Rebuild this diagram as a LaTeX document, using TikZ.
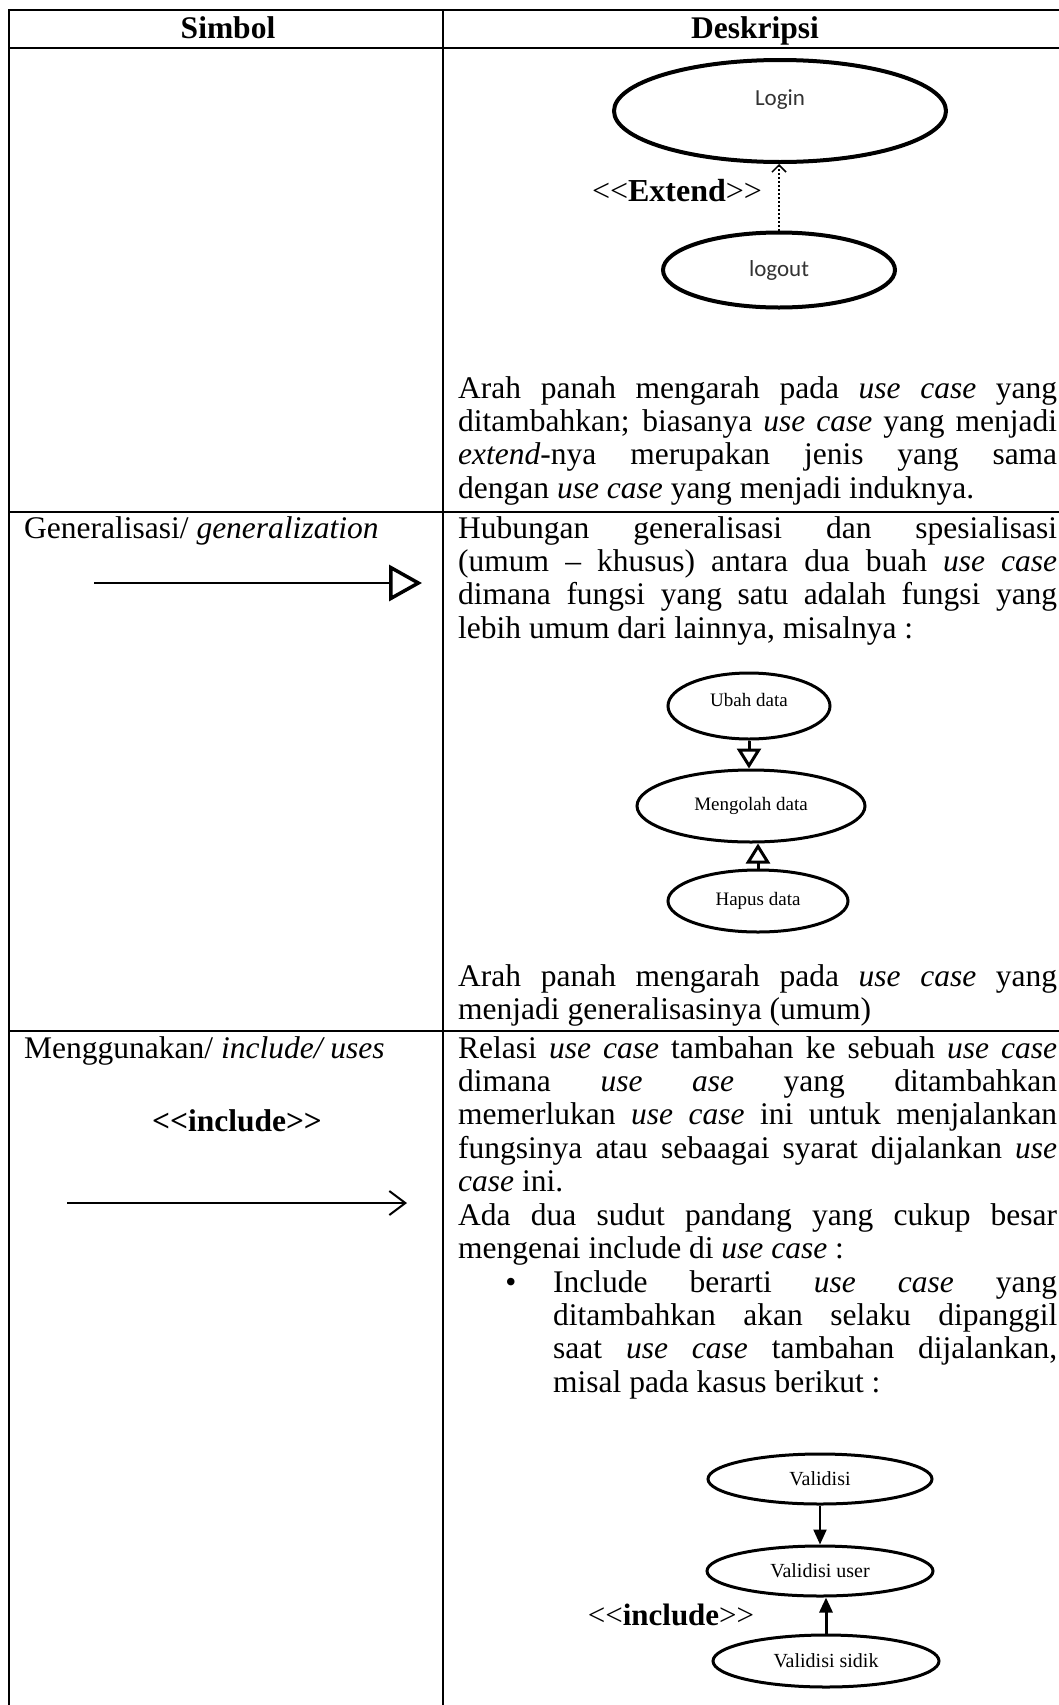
\documentclass[tikz,border=0pt]{standalone}
\usepackage{fontspec}
\setmainfont{Liberation Serif}
\newfontfamily\ucfont{Carlito}
\usetikzlibrary{arrows.meta,shapes.geometric,calc}

% body text: Times-like, fixed line pitch
\newcommand\bodysize{\fontsize{31.5}{33.4}\selectfont}
% description blocks: stacked lines, justified ones spread to the column width
\newlength\descw
\setlength\descw{599pt}
\newcommand\jl[1]{\hbox to\descw{#1}}
\newcommand\lastl[1]{\hbox{#1}}
\newcommand\block[1]{\vtop{\bodysize #1}}
% double angle brackets, kept apart so no guillemet is formed
\newcommand\dlt{<\kern0pt<}
\newcommand\dgt{>\kern0pt>}

\tikzset{
  tbl/.style={line width=2pt},
  hd/.style={anchor=base, inner sep=0pt, font=\bodysize\bfseries},
  lefttxt/.style={anchor=base west, inner sep=0pt, font=\bodysize},
  desc/.style={anchor=base west, inner sep=0pt, font=\bodysize},
  ucA/.style={draw, ellipse, line width=4pt, inner sep=0pt,
              font=\ucfont\fontsize{23}{23}\selectfont, text=black!80},
  ucB/.style={draw, ellipse, line width=3pt, inner sep=0pt,
              font=\fontsize{19}{19}\selectfont},
  ucC/.style={draw, ellipse, line width=3pt, inner sep=0pt,
              font=\fontsize{20}{20}\selectfont},
  gen/.style={line width=3pt, -{Triangle[open,length=20pt,width=24pt]}},
  inc/.style={line width=2.2pt, -{Triangle[length=15pt,width=13pt]}},
}

\begin{document}
\begin{tikzpicture}[x=1pt,y=-1pt]
\useasboundingbox[fill=white] (0,0) rectangle (1059,1705);

% table grid (right border lies just beyond the page, no bottom rule)
\draw[tbl] (9,10) -- (1059,10);
\draw[tbl] (9,48) -- (1059,48);
\draw[tbl] (9,512) -- (1059,512);
\draw[tbl] (9,1031) -- (1059,1031);
\draw[tbl] (9,9) -- (9,1705);
\draw[tbl] (443,9) -- (443,1705);

% header
\node[hd] (hsimbol) at (228,38) {Simbol};
\node[hd] (hdesk) at (755,38) {Deskripsi};

% ---- extend example ----
\node[ucA, minimum width=332pt, minimum height=102pt,
      label={[font=\ucfont\fontsize{23}{23}\selectfont, text=black!80, yshift=11pt]center:Login}]
      (login) at (780,111) {};
\node[ucA, minimum width=232pt, minimum height=75pt] (logout) at (779,270) {logout};
\draw[line width=1.5pt, dash pattern=on 2pt off 2pt,
      -{Straight Barb[length=7pt,width=14pt,line width=1.5pt]}]
      (logout.north) -- (logout.north |- login.south);
\node[font=\fontsize{32}{32}\selectfont, inner sep=0pt] (extlbl) at (677,191) {\dlt\textbf{Extend}\dgt};

\node[desc] (t1) at (458,398) {\block{%
\jl{Arah panah mengarah pada \textit{use case} yang}
\jl{ditambahkan; biasanya \textit{use case} yang menjadi}
\jl{\textit{extend}-nya merupakan jenis yang sama}
\lastl{dengan \textit{use case} yang menjadi induknya.}}};

% ---- generalization ----
\node[lefttxt] (gentxt) at (24,538) {Generalisasi/ \textit{generalization}};
\coordinate (gsa) at (94,583);
\coordinate (gsb) at (422,583);
\draw[line width=1.5pt, -{Triangle[open,length=33pt,width=36pt,line width=3.5pt]}] (gsa) -- (gsb);

\node[desc] (t2a) at (458,538) {\block{%
\jl{Hubungan generalisasi dan spesialisasi}
\jl{(umum – khusus) antara dua buah \textit{use case}}
\jl{dimana fungsi yang satu adalah fungsi yang}
\lastl{lebih umum dari lainnya, misalnya :}}};

\node[ucB, minimum width=162pt, minimum height=66pt,
      label={[font=\fontsize{19}{19}\selectfont, yshift=6pt]center:Ubah data}]
      (ubah) at (749,706) {};
\node[ucB, minimum width=228pt, minimum height=72pt] (olah) at (751,806) {Mengolah data};
\node[ucB, minimum width=180pt, minimum height=62pt] (hapus) at (758,901) {Hapus data};
\draw[gen] (ubah.south) -- (ubah.south |- olah.north);
\draw[gen] (hapus.north) -- (hapus.north |- olah.south);

\node[desc] (t2b) at (458,986) {\block{%
\jl{Arah panah mengarah pada \textit{use case} yang}
\lastl{menjadi generalisasinya (umum)}}};

% ---- include ----
\node[lefttxt] (inctxt) at (24,1058) {Menggunakan/ \textit{include/ uses}};
\node[hd] (incsym) at (237,1131) {\dlt include\dgt};
\coordinate (isa) at (67,1203);
\coordinate (isb) at (407,1203);
\draw[line width=2pt, -{Straight Barb[length=16pt,width=24pt,line width=2pt]}] (isa) -- (isb);

\node[desc] (t3a) at (458,1058) {\block{%
\jl{Relasi \textit{use case} tambahan ke sebuah \textit{use case}}
\jl{dimana \textit{use ase} yang ditambahkan}
\jl{memerlukan \textit{use case} ini untuk menjalankan}
\jl{fungsinya atau sebaagai syarat dijalankan \textit{use}}
\lastl{\textit{case} ini.}
\jl{Ada dua sudut pandang yang cukup besar}
\lastl{mengenai include di \textit{use case} :}}};

\node[anchor=base, inner sep=0pt, font=\bodysize] (bul) at (511,1292) {•};
\node[desc] (t3b) at (553,1292) {\block{\setlength\descw{504pt}%
\jl{Include berarti \textit{use case} yang}
\jl{ditambahkan akan selaku dipanggil}
\jl{saat \textit{use case} tambahan dijalankan,}
\lastl{misal pada kasus berikut :}}};

\node[ucC, minimum width=224pt, minimum height=50pt] (val) at (820,1479) {Validisi};
\node[ucC, minimum width=226pt, minimum height=50pt] (valuser) at (820,1571) {Validisi user};
\node[ucC, minimum width=226pt, minimum height=52pt] (valsidik) at (826,1661) {Validisi sidik};
\draw[inc] (val.south) -- (valuser.north);
\draw[inc, line width=3pt] (valsidik.north) -- (valsidik.north |- valuser.south);
\node[font=\fontsize{31}{31}\selectfont, inner sep=0pt] (inclbl) at (671,1615) {\dlt\textbf{include}\dgt};

\end{tikzpicture}
\end{document}
